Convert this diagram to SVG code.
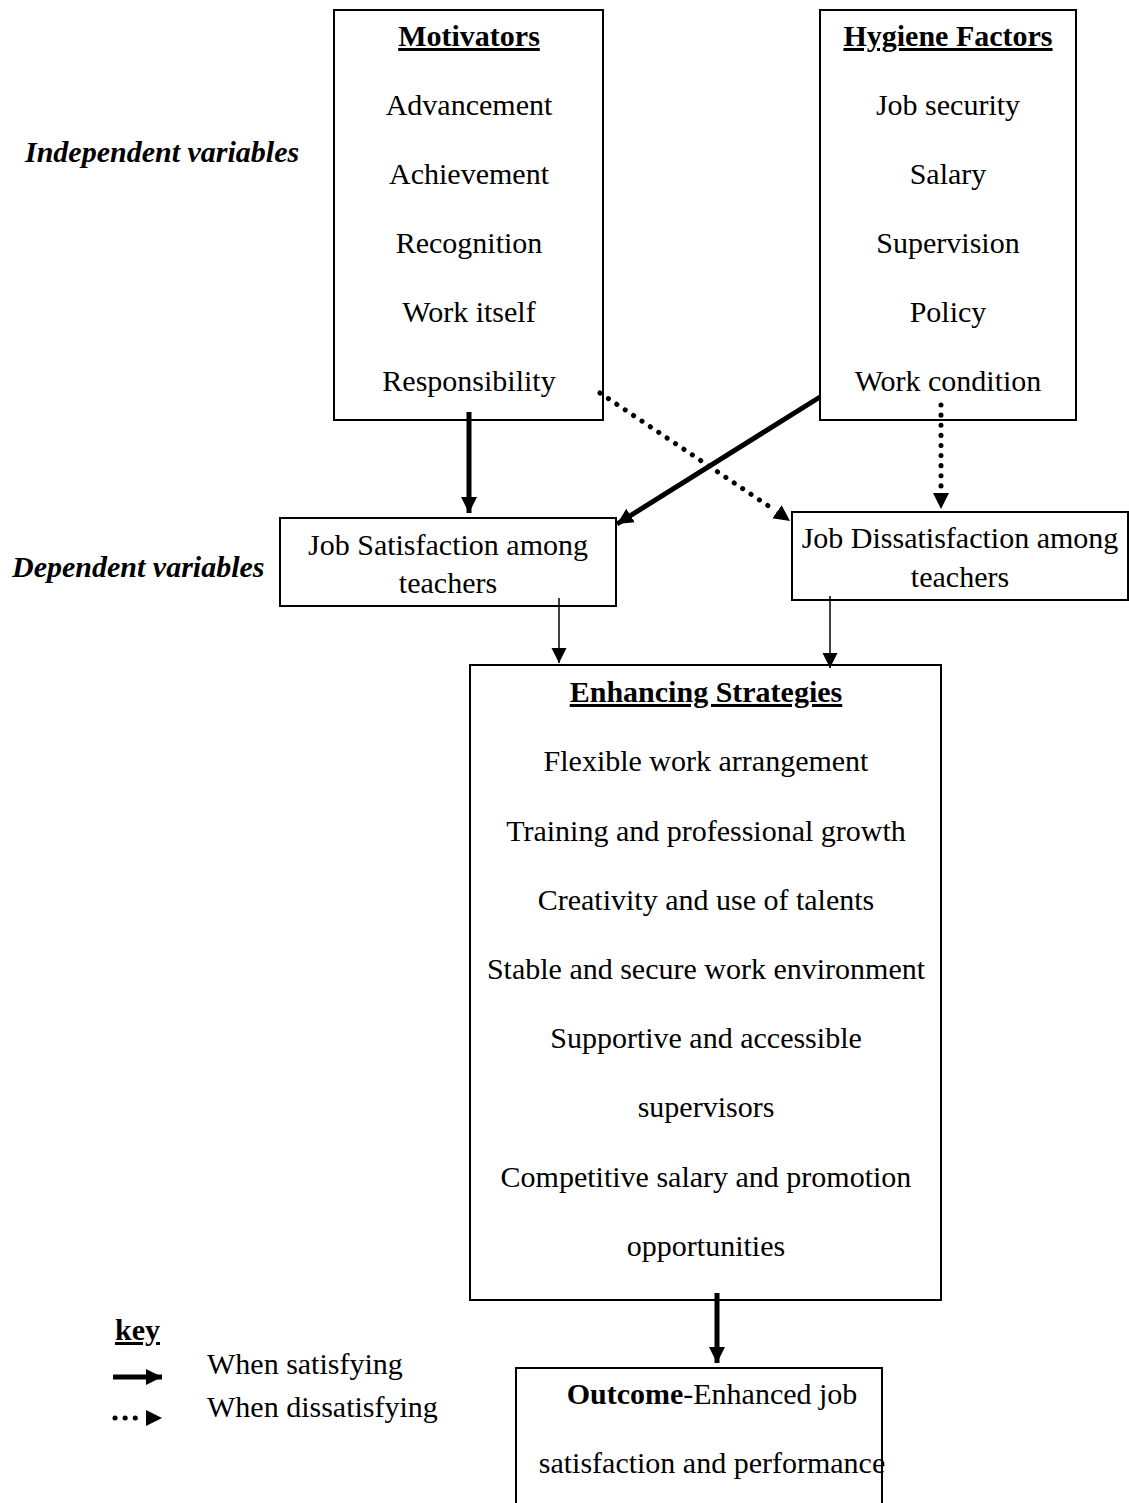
<svg xmlns="http://www.w3.org/2000/svg" width="1129" height="1503" viewBox="0 0 1129 1503">
<defs>
<style>
text{font-family:"Liberation Serif","Times New Roman",serif;font-size:30px;fill:#000}
.c{text-anchor:middle}
.b{font-weight:bold}
.u{text-decoration:underline}
.bi{font-weight:bold;font-style:italic}
.box{fill:#fff;stroke:#000;stroke-width:2}
.thick{stroke:#000;stroke-width:5;fill:none}
.thin{stroke:#000;stroke-width:1.5;fill:none}
.dot{stroke:#000;stroke-width:5;fill:none;stroke-dasharray:0.1 10;stroke-linecap:round}
</style>
<marker id="ah" viewBox="0 0 10 10" refX="10" refY="5" markerWidth="3.2" markerHeight="3.6" orient="auto" markerUnits="strokeWidth"><path d="M0,0L10,5L0,10z" fill="#000"/></marker>
<marker id="ahd" viewBox="0 0 10 10" refX="10" refY="5" markerWidth="16" markerHeight="18" orient="auto" markerUnits="userSpaceOnUse"><path d="M0,0L10,5L0,10z" fill="#000"/></marker>
<marker id="aht" viewBox="0 0 10 10" refX="10" refY="5" markerWidth="10" markerHeight="11" orient="auto" markerUnits="strokeWidth"><path d="M0,0L10,5L0,10z" fill="#000"/></marker>
</defs>
<text class="bi" x="25" y="162">Independent variables</text>
<text class="bi" x="12" y="577">Dependent variables</text>
<g id="motivators">
<rect class="box" x="334" y="10" width="269" height="410"/>
<text class="c b u" x="469" y="46">Motivators</text>
<text class="c" x="469" y="115">Advancement</text>
<text class="c" x="469" y="184">Achievement</text>
<text class="c" x="469" y="253">Recognition</text>
<text class="c" x="469" y="322">Work itself</text>
<text class="c" x="469" y="391">Responsibility</text>
</g>
<g id="hygiene">
<rect class="box" x="820" y="10" width="256" height="410"/>
<text class="c b u" x="948" y="46">Hygiene Factors</text>
<text class="c" x="948" y="115">Job security</text>
<text class="c" x="948" y="184">Salary</text>
<text class="c" x="948" y="253">Supervision</text>
<text class="c" x="948" y="322">Policy</text>
<text class="c" x="948" y="391">Work condition</text>
</g>
<g id="jobsat">
<rect class="box" x="280" y="518" width="336" height="88"/>
<text class="c" x="448" y="555">Job Satisfaction among</text>
<text class="c" x="448" y="593">teachers</text>
</g>
<g id="jobdissat">
<rect class="box" x="792" y="512" width="336" height="88"/>
<text class="c" x="960" y="548">Job Dissatisfaction among</text>
<text class="c" x="960" y="587">teachers</text>
</g>
<g id="strategies">
<rect class="box" x="470" y="665" width="471" height="635"/>
<text class="c b u" x="706" y="702">Enhancing Strategies</text>
<text class="c" x="706" y="771">Flexible work arrangement</text>
<text class="c" x="706" y="841">Training and professional growth</text>
<text class="c" x="706" y="910">Creativity and use of talents</text>
<text class="c" x="706" y="979">Stable and secure work environment</text>
<text class="c" x="706" y="1048">Supportive and accessible</text>
<text class="c" x="706" y="1117">supervisors</text>
<text class="c" x="706" y="1187">Competitive salary and promotion</text>
<text class="c" x="706" y="1256">opportunities</text>
</g>
<g id="outcome">
<rect class="box" x="516" y="1368" width="366" height="145"/>
<text class="c" x="712" y="1404"><tspan class="b">Outcome</tspan>-Enhanced job</text>
<text class="c" x="712" y="1473">satisfaction and performance</text>
</g>
<g id="connectors">
<line class="thick" x1="469" y1="412" x2="469" y2="513" marker-end="url(#ah)"/>
<line class="thick" x1="820" y1="397" x2="617" y2="524" marker-end="url(#ah)"/>
<line class="dot" x1="600" y1="393" x2="776" y2="511"/>
<path d="M776,511 L790,521" stroke="#000" stroke-width="0.1" marker-end="url(#ahd)"/>
<line class="dot" x1="941" y1="405" x2="941" y2="495"/>
<path d="M941,495 L941,509" stroke="#000" stroke-width="0.1" marker-end="url(#ahd)"/>
<line class="thin" x1="559" y1="598" x2="559" y2="663" marker-end="url(#aht)"/>
<line class="thin" x1="830" y1="596" x2="830" y2="668" marker-end="url(#aht)"/>
<line class="thick" x1="717" y1="1293" x2="717" y2="1363" marker-end="url(#ah)"/>
</g>
<g id="key">
<text class="b u" x="115" y="1340">key</text>
<line class="thick" x1="113" y1="1377" x2="162" y2="1377" marker-end="url(#ah)"/>
<text x="207" y="1374">When satisfying</text>
<line class="dot" x1="115" y1="1418" x2="138" y2="1418"/>
<path d="M148,1418 L162,1418" stroke="#000" stroke-width="0.1" marker-end="url(#ahd)"/>
<text x="207" y="1417">When dissatisfying</text>
</g>
</svg>
